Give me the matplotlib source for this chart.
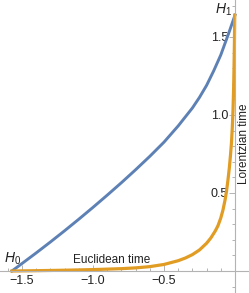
import matplotlib

matplotlib.use("Agg")
import matplotlib.pyplot as plt
from matplotlib.ticker import MultipleLocator, FixedLocator

plt.rcParams["font.family"] = ["Liberation Sans", "DejaVu Sans"]
plt.rcParams["mathtext.fontset"] = "custom"
plt.rcParams["mathtext.it"] = "Liberation Sans:italic"
plt.rcParams["mathtext.rm"] = "Liberation Sans"

# contour in the complex time plane
blue_x = [-1.571, -1.5, -1.4, -1.3, -1.2, -1.1, -1.0, -0.9, -0.8, -0.7, -0.6, -0.5,
          -0.4, -0.3, -0.25, -0.2, -0.15, -0.1, -0.07, -0.04, -0.02, 0.0]
blue_y = [0.0, 0.048, 0.116, 0.186, 0.258, 0.332, 0.408, 0.486, 0.566, 0.649, 0.735, 0.826,
          0.93, 1.045, 1.113, 1.19, 1.283, 1.385, 1.46, 1.535, 1.588, 1.64]

orange_x = [-1.571, -1.4, -1.2, -1.0, -0.8, -0.7, -0.6, -0.5, -0.4, -0.35, -0.3, -0.25,
            -0.2, -0.17, -0.14, -0.12, -0.1, -0.085, -0.07, -0.06, -0.05, -0.04,
            -0.032, -0.025, -0.019, -0.014, -0.01, -0.007, -0.004, -0.002]
orange_y = [0.0, 0.002, 0.005, 0.009, 0.015, 0.02, 0.028, 0.042, 0.066, 0.083, 0.105, 0.135,
            0.178, 0.212, 0.255, 0.29, 0.34, 0.39, 0.455, 0.51, 0.58, 0.66,
            0.74, 0.82, 0.92, 1.03, 1.16, 1.3, 1.47, 1.64]

x_major = [-1.5, -1.0, -0.5]
y_major = [0.5, 1.0, 1.5]

fig = plt.figure(figsize=(2.49, 2.93), dpi=100)
ax = fig.add_axes([0, 0, 1, 1])

ax.plot(blue_x, blue_y, color="#5E81B5", lw=2.1, solid_joinstyle="round")
ax.plot(orange_x, orange_y, color="#E19C24", lw=2.3, solid_joinstyle="round")

ax.set_xlim(-1.655, 0.0986)
ax.set_ylim(-0.141, 1.737)

for side in ("top", "right"):
    ax.spines[side].set_visible(False)
for side in ("left", "bottom"):
    ax.spines[side].set_position(("data", 0))
    ax.spines[side].set_color("#b3b3b3")
    ax.spines[side].set_linewidth(0.8)

ax.xaxis.set_major_locator(FixedLocator(x_major))
ax.xaxis.set_minor_locator(MultipleLocator(0.1))
ax.yaxis.set_major_locator(FixedLocator(y_major))
ax.yaxis.set_minor_locator(MultipleLocator(0.1))
ax.set_xticklabels(["\u22121.5", "\u22121.0", "\u22120.5"])
ax.set_yticklabels(["0.5", "1.0", "1.5"])

ax.tick_params(axis="x", which="both", direction="in", color="#b3b3b3", width=0.7,
               labelsize=9, labelcolor="#222222", pad=3)
ax.tick_params(axis="y", which="both", direction="out", color="#b3b3b3", width=0.7,
               labelsize=9, labelcolor="#222222", pad=1)
ax.tick_params(which="major", length=4)
ax.tick_params(which="minor", length=2.5)

ax.text(-0.866, 0.035, "Euclidean time", fontsize=8.5, ha="center", va="bottom", color="#222222")
ax.text(0.063, 0.814, "Lorentzian time", fontsize=8.5, ha="center", va="center",
        rotation=90, color="#222222")
ax.text(-1.57, 0.08, "$H_0$", fontsize=10, ha="center", va="center", color="#222222")
ax.text(-0.08, 1.675, "$H_1$", fontsize=10, ha="center", va="center", color="#222222")

fig.savefig("out.png", dpi=100)
